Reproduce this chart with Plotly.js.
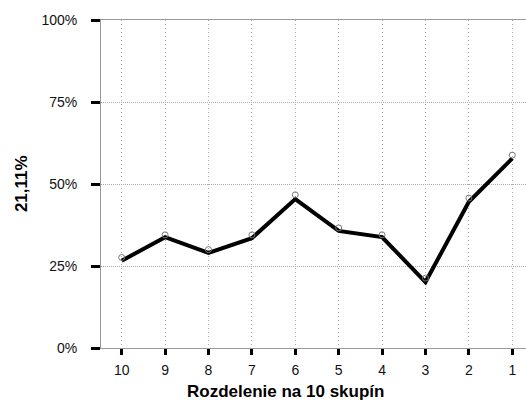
<!DOCTYPE html>
<html>
<head>
<meta charset="utf-8">
<script src="https://cdn.plot.ly/plotly-3.0.1.min.js"></script>
<style>html,body{margin:0;padding:0;background:#fff;}#chart{width:526px;height:401px;}</style>
</head>
<body>
<div id="chart"></div>
<script>
const categories = ["10","9","8","7","6","5","4","3","2","1"];
const lineValues = [0.266, 0.338, 0.290, 0.335, 0.454, 0.357, 0.338, 0.201, 0.446, 0.578];
const markerValues = [0.276, 0.345, 0.300, 0.345, 0.467, 0.366, 0.345, 0.213, 0.457, 0.588];
const yTickVals = [0, 0.25, 0.5, 0.75, 1];
const yTickText = ["0%", "25%", "50%", "75%", "100%"];
const xTitle = "Rozdelenie na 10 skupín";
const yTitle = "21,11%";

const traces = [
  {
    x: categories, y: lineValues, type: 'scatter', mode: 'lines',
    line: {color: '#000', width: 4}, hoverinfo: 'skip'
  },
  {
    x: categories, y: markerValues, type: 'scatter', mode: 'markers',
    marker: {symbol: 'circle-open', size: 6, color: '#777', line: {width: 1, color: '#777'}}
  }
];

const layout = {
  width: 526, height: 401,
  margin: {l: 101, r: 0, t: 20, b: 53},
  paper_bgcolor: '#fff', plot_bgcolor: '#fff',
  showlegend: false,
  font: {family: 'Liberation Sans, Arial, sans-serif', color: '#111', size: 14},
  xaxis: {
    type: 'category',
    range: [-0.477, 9.316],
    showgrid: true, gridcolor: '#aaa', griddash: '1px,3px', gridwidth: 1,
    showline: true, linecolor: '#999', linewidth: 1, mirror: true,
    ticks: 'outside', ticklen: 6, tickwidth: 3, tickcolor: '#000',
    tickfont: {size: 14}, ticklabelstandoff: 3,
    zeroline: false
  },
  yaxis: {
    range: [0, 1],
    tickvals: yTickVals, ticktext: yTickText,
    showgrid: true, gridcolor: '#aaa', griddash: '1px,1px', gridwidth: 1,
    showline: true, linecolor: '#999', linewidth: 1,
    ticks: 'outside', ticklen: 9, tickwidth: 3, tickcolor: '#000',
    tickfont: {size: 14}, ticklabelstandoff: 11,
    zeroline: false
  },
  annotations: [
    {
      text: '<b>' + xTitle + '</b>', xref: 'paper', yref: 'paper',
      x: 0.434, y: -0.134, xanchor: 'center', yanchor: 'middle',
      showarrow: false, font: {size: 17, color: '#000'}
    },
    {
      text: '<b>' + yTitle + '</b>', xref: 'paper', yref: 'paper',
      x: -0.188, y: 0.5, xanchor: 'center', yanchor: 'middle', textangle: -90,
      showarrow: false, font: {size: 17, color: '#000'}
    }
  ]
};

Plotly.newPlot('chart', traces, layout, {displayModeBar: false, staticPlot: true});
</script>
</body>
</html>
